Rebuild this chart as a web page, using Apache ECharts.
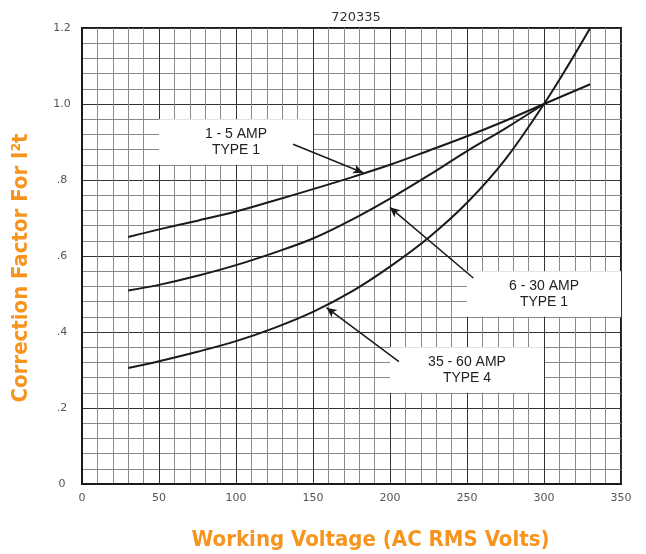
<!DOCTYPE html>
<html><head><meta charset="utf-8">
<script src="https://cdn.jsdelivr.net/npm/echarts@6/dist/echarts.min.js"></script>
<style>html,body{margin:0;padding:0;background:#fff}#c{width:646px;height:554px}</style>
</head><body><div id="c"></div>
<script>
// ---- data ----
const chartTitle = '720335';
const xTitle = 'Working Voltage (AC RMS Volts)';
const yTitle = 'Correction Factor For I\u00B2t';
const yTickLabels = ['0', '.2', '.4', '.6', '.8', '1.0', '1.2'];

const voltsA = [30, 50, 75, 100, 125, 150, 175, 200, 225, 250, 275, 300, 330];
const amp1to5 = [0.650, 0.670, 0.693, 0.717, 0.746, 0.776, 0.807, 0.840, 0.877, 0.915, 0.956, 1.000, 1.052];

const voltsB = [30, 50, 75, 100, 125, 150, 175, 200, 225, 250, 275, 300];
const amp6to30 = [0.509, 0.524, 0.548, 0.576, 0.609, 0.646, 0.695, 0.751, 0.812, 0.876, 0.936, 1.000];

const voltsC = [30, 50, 75, 100, 125, 150, 175, 200, 225, 250, 275, 300, 315, 330];
const amp35to60 = [0.305, 0.323, 0.348, 0.376, 0.411, 0.453, 0.506, 0.572, 0.648, 0.740, 0.855, 1.000, 1.097, 1.200];

// label boxes [x1, y1, x2, y2] in data units, and arrows [tailX, tailY, tipX, tipY]
const labelTexts = ['1 - 5 AMP\nTYPE 1', '6 - 30 AMP\nTYPE 1', '35 - 60 AMP\nTYPE 4'];
const labelBoxes = [[50, 0.96, 150, 0.84], [250, 0.56, 350, 0.44], [200, 0.36, 300, 0.24]];
const arrows = [[137.1, 0.894, 182.6, 0.819], [254.1, 0.542, 199.9, 0.728], [205.8, 0.322, 158.8, 0.464]];

// ---- build ----
const pairs = (xs, ys) => xs.map((x, i) => [x, ys[i]]);
const lineColor = '#1a1a1a';
const orange = '#F7941D';
const titleFont = 'DejaVu Sans Condensed, sans-serif';

function annot(i) {
  const b = labelBoxes[i], a = arrows[i];
  return {
    markArea: {
      silent: true,
      itemStyle: { color: '#ffffff' },
      label: {
        show: true, position: 'inside', formatter: labelTexts[i],
        color: '#222', fontSize: 14, lineHeight: 16,
        fontFamily: 'Liberation Sans, Arial, sans-serif'
      },
      data: [[{ coord: [b[0], b[1]] }, { coord: [b[2], b[3]] }]]
    },
    markLine: {
      silent: true, symbol: ['none', 'arrow'], symbolSize: [7, 10],
      lineStyle: { color: lineColor, width: 1.5, type: 'solid' },
      label: { show: false },
      data: [[{ coord: [a[0], a[1]] }, { coord: [a[2], a[3]] }]]
    }
  };
}

const chart = echarts.init(document.getElementById('c'));
chart.setOption({
  animation: false,
  backgroundColor: '#fff',
  title: {
    text: chartTitle, left: 351, top: 6, textAlign: 'center',
    textStyle: { fontSize: 13, fontWeight: 'normal', color: '#333', fontFamily: 'DejaVu Sans, sans-serif' }
  },
  grid: { left: 82, right: 25, top: 28, bottom: 70, containLabel: false, outerBoundsMode: 'none',
    show: true, borderColor: '#1a1a1a', borderWidth: 2, backgroundColor: 'transparent' },
  xAxis: {
    type: 'value', min: 0, max: 350, interval: 50,
    name: xTitle, nameLocation: 'middle', nameGap: 45,
    nameTextStyle: { color: orange, fontSize: 22, fontWeight: 'bold', fontFamily: titleFont, padding: [0, 0, 0, 38] },
    axisLine: { show: true, lineStyle: { color: '#1a1a1a', width: 2 } },
    axisTick: { show: false },
    axisLabel: { color: '#555', fontSize: 11, margin: 9, fontFamily: 'DejaVu Sans, sans-serif' },
    splitLine: { show: true, lineStyle: { color: '#333', width: 1 } },
    minorTick: { show: false, splitNumber: 5 },
    minorSplitLine: { show: true, lineStyle: { color: '#8a8a8a', width: 1 } }
  },
  yAxis: {
    type: 'value', min: 0, max: 1.2, interval: 0.2,
    name: yTitle, nameLocation: 'middle', nameGap: 50, nameRotate: 90,
    nameTextStyle: { color: orange, fontSize: 22, fontWeight: 'bold', fontFamily: titleFont, padding: [0, 24, 0, 0] },
    axisLine: { show: true, lineStyle: { color: '#1a1a1a', width: 2 } },
    axisTick: { show: false },
    axisLabel: {
      color: '#555', fontSize: 11, margin: 20, align: 'center', fontFamily: 'DejaVu Sans, sans-serif',
      formatter: v => yTickLabels[Math.round(v / 0.2)]
    },
    splitLine: { show: true, lineStyle: { color: '#333', width: 1 } },
    minorTick: { show: false, splitNumber: 5 },
    minorSplitLine: { show: true, lineStyle: { color: '#8a8a8a', width: 1 } }
  },
  series: [
    Object.assign({ name: '1 - 5 AMP', type: 'line', smooth: 0.35, showSymbol: false, data: pairs(voltsA, amp1to5),
      lineStyle: { color: lineColor, width: 2 }, z: 3 }, annot(0)),
    Object.assign({ name: '6 - 30 AMP', type: 'line', smooth: 0.35, showSymbol: false, data: pairs(voltsB, amp6to30),
      lineStyle: { color: lineColor, width: 2 }, z: 3 }, annot(1)),
    Object.assign({ name: '35 - 60 AMP', type: 'line', smooth: 0.35, showSymbol: false, data: pairs(voltsC, amp35to60),
      lineStyle: { color: lineColor, width: 2 }, z: 3 }, annot(2))
  ]
});
</script></body></html>
